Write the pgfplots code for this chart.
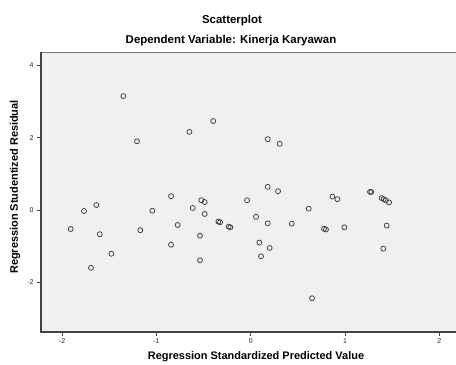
\documentclass[border=0pt]{standalone}
\usepackage{pgfplots}
\pgfplotsset{compat=1.18}
\usepackage{fontspec}
\setmainfont{Liberation Sans}
\definecolor{bgg}{HTML}{F0F0F0}
\definecolor{ptc}{HTML}{333333}
\definecolor{axc}{HTML}{444444}
\begin{document}
\begin{tikzpicture}[x=1bp,y=1bp]
\useasboundingbox (0,0) rectangle (456,364);
\fill[white] (0,0) rectangle (456,364);
\begin{axis}[
  at={(41bp,32bp)}, anchor=south west,
  scale only axis, width=430bp, height=280bp,
  xmin=-2.224, xmax=2.336, ymin=-3.375, ymax=4.37,
  axis background/.style={fill=bgg},
  axis line style={draw=black!55, line width=0.6pt},
  xtick={-2,-1,0,1,2}, xticklabels={-2,-1,0,1,2},
  ytick={-2,0,2,4}, yticklabels={-2,0,2,4},
  tick align=outside, xtick pos=bottom, ytick pos=left,
  major tick length=4bp,
  tick style={draw=axc, line width=0.8pt},
  tick label style={font=\fontsize{7}{8}\selectfont, text=black!85},
  xticklabel style={yshift=1bp},
  clip=false,
]
\draw[axc, line width=1.1pt] (rel axis cs:0,1) -- (rel axis cs:0,0) -- (rel axis cs:1,0);
\addplot[only marks, mark=o, mark size=2.5bp, mark options={draw=ptc, line width=0.7pt}] coordinates {
(-1.351,3.15) (-1.206,1.90) (-0.650,2.16) (-0.397,2.46)
(-1.909,-0.526) (-1.768,-0.028) (-1.637,0.138) (-1.601,-0.67)
(-1.171,-0.56) (-1.043,-0.02) (-0.845,0.38) (-0.775,-0.415)
(-0.615,0.055) (-0.524,0.27) (-0.488,0.22) (-0.488,-0.11)
(-0.343,-0.32) (-0.326,-0.34) (-0.233,-0.46) (-0.216,-0.48)
(-0.039,0.27) (-0.538,-0.71)
(-1.694,-1.60) (-1.478,-1.21) (-0.845,-0.96) (-0.538,-1.39)
(0.180,1.96) (0.307,1.83) (0.180,0.64) (0.290,0.52)
(0.056,-0.19) (0.180,-0.37) (0.435,-0.38) (0.615,0.036)
(0.866,0.37) (0.919,0.30) (0.777,-0.52) (0.798,-0.54)
(0.993,-0.48) (1.265,0.50) (1.279,0.50)
(1.389,0.33) (1.410,0.30) (1.432,0.27) (1.467,0.21)
(1.442,-0.43)
(0.091,-0.90) (0.201,-1.05) (0.109,-1.28) (1.406,-1.07) (0.650,-2.44)
};
\end{axis}
\node[font=\fontsize{11.5}{13}\selectfont\bfseries] at (232,343) {Scatterplot};
\node[font=\fontsize{11.5}{13}\selectfont\bfseries] at (231,323) {Dependent Variable: Kinerja Karyawan};
\node[font=\fontsize{11}{13}\selectfont\bfseries, rotate=90] at (15,177) {Regression Studentized Residual};
\node[font=\fontsize{11}{13}\selectfont\bfseries] at (256,7) {Regression Standardized Predicted Value};
\end{tikzpicture}
\end{document}
